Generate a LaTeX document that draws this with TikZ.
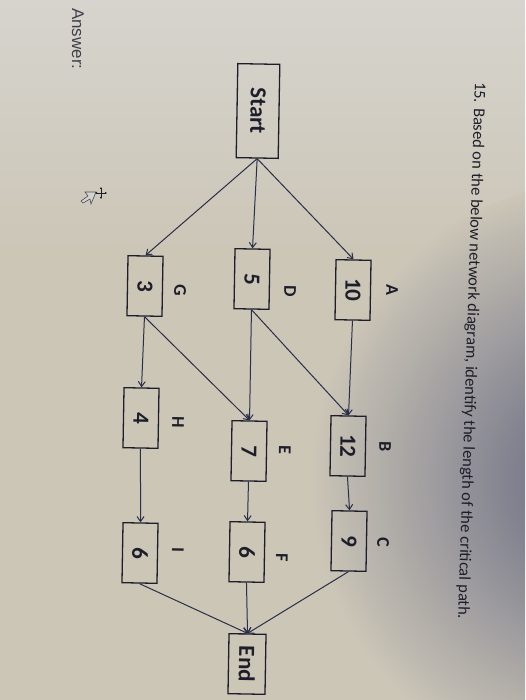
\documentclass[tikz,border=0pt]{standalone}
\usepackage{fontspec}
\setmainfont{Carlito}
\newfontfamily\arialf{Liberation Sans}
\usetikzlibrary{arrows.meta}
\definecolor{bg}{RGB}{204,198,183}
\definecolor{bgl}{RGB}{214,212,206}
\definecolor{bluish}{RGB}{88,92,122}
\definecolor{ink}{RGB}{30,30,42}
\definecolor{edgec}{RGB}{42,46,72}
\begin{document}
\begin{tikzpicture}[x=1pt,y=-1pt,
  box/.style={draw=ink, line width=1.3pt, rectangle, minimum width=60pt, minimum height=35pt,
    inner sep=0pt, rotate=-91, font=\bfseries\fontsize{23}{23}\selectfont, text=ink},
  lbl/.style={rotate=-91, font=\bfseries\fontsize{18}{18}\selectfont, text=ink, inner sep=0pt},
  arr/.style={draw=edgec, line width=1pt, -{Straight Barb[length=5pt,width=7pt]}},
]
% background
\useasboundingbox (0,0) rectangle (525,700);
\fill[bg] (0,0) rectangle (525,700);
\shade[top color=bgl, bottom color=bg] (0,0) rectangle (525,250);
\begin{scope}
  \clip (0,0) rectangle (525,700);
  \shade[inner color=bluish, outer color=bg, opacity=0.95] (610,480) circle (300);
\end{scope}

% texts
\node[rotate=-91.8, anchor=base west, font=\fontsize{16.5}{16.5}\selectfont, text=ink, inner sep=0pt]
  (title) at (475,82) {15. Based on the below network diagram, identify the length of the critical path.};
\node[rotate=-90, anchor=base west, font=\arialf\fontsize{17}{17}\selectfont, text=ink!85, inner sep=0pt]
  (answer) at (72,8) {Answer:};

% boxes
\node[box, minimum width=94pt, minimum height=42pt] (Start) at (258,111) {Start};
\node[box] (A) at (353,290) {10};
\node[box] (D) at (252,279) {5};
\node[box] (G) at (145,286) {3};
\node[box] (B) at (348,446) {12};
\node[box] (E) at (249,451) {7};
\node[box] (H) at (141,418) {4};
\node[box] (C) at (349,541) {9};
\node[box] (F) at (247,552) {6};
\node[box] (I) at (140,553) {6};
\node[box, minimum height=37pt] (End) at (247,664) {End};

% labels
\node[lbl] (lA) at (392,290) {A};
\node[lbl] (lD) at (290,291) {D};
\node[lbl] (lG) at (180,290) {G};
\node[lbl] (lB) at (385,447) {B};
\node[lbl] (lE) at (285,450) {E};
\node[lbl] (lH) at (178,422) {H};
\node[lbl] (lC) at (383,542) {C};
\node[lbl] (lF) at (282,558) {F};
\node[lbl] (lI) at (178,550) {I};

% connectors
\draw[arr] (Start.east) -- (A.west);
\draw[arr] (Start.east) -- (D.west);
\draw[arr] (Start.east) -- (G.west);
\draw[arr] (A.east) -- (B.west);
\draw[arr] (D.east) -- (B.west);
\draw[arr] (D.east) -- (E.west);
\draw[arr] (G.east) -- (E.west);
\draw[arr] (G.east) -- (H.west);
\draw[arr] (B.east) -- (C.west);
\draw[arr] (E.east) -- (F.west);
\draw[arr] (H.east) -- (I.west);
\draw[arr] (C.east) -- (End.west);
\draw[arr] (F.east) -- (End.west);
\draw[arr] (I.east) -- (End.west);

% mouse cursor
\draw[ink!80, line width=0.6pt, fill=bgl]
  (96,192) -- (91,204) -- (90,199) -- (83,203) -- (81,201) -- (88,196) -- (85,192) -- cycle;
\draw[ink, line width=0.7pt, {Latex[length=2pt,width=2.5pt]}-{Latex[length=2pt,width=2.5pt]}] (95,193) -- (107,193);
\draw[ink, line width=0.7pt, {Latex[length=2pt,width=2.5pt]}-{Latex[length=2pt,width=2.5pt]}] (101,187) -- (101,199);
\end{tikzpicture}
\end{document}
